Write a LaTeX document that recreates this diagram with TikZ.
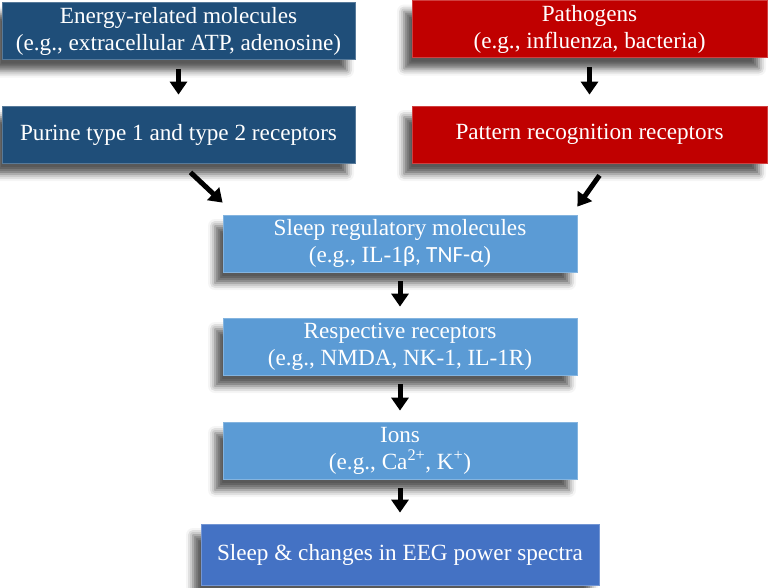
\documentclass[tikz,border=0pt]{standalone}
\usepackage{fontspec}
\setmainfont{Liberation Serif}
\newfontfamily\sansgreek{Carlito}
\usetikzlibrary{arrows.meta,shadows.blur}
\definecolor{energyblue}{RGB}{31,78,121}
\definecolor{pathored}{RGB}{192,0,0}
\definecolor{sleepblue}{RGB}{91,155,213}
\definecolor{eegblue}{RGB}{68,114,196}
\tikzset{
  box/.style={draw=#1!75!white, line width=0.8pt, fill=#1, text=white,
              align=center, minimum height=57pt, inner sep=2pt,
              font=\fontsize{23.2}{27}\selectfont,
              blur shadow={shadow xshift=-8pt, shadow yshift=-11pt,
                           shadow blur radius=7pt, shadow opacity=65}},
  arr/.style={line width=5pt, -{Triangle[width=17pt,length=13pt]},
              shorten <=9pt, shorten >=11pt}
}
\begin{document}
\begin{tikzpicture}[x=1pt,y=-1pt]
\useasboundingbox (0,0) rectangle (769,587);
% left column
\node [box=energyblue, minimum width=353pt] (energy) at (178.5,31)
      {Energy-related molecules\\(e.g., extracellular ATP, adenosine)};
\node [box=energyblue, minimum width=353pt] (purine) at (178.5,134.5)
      {Purine type 1 and type 2 receptors};
% right column
\node [box=pathored, minimum width=355pt] (patho) at (589.5,29)
      {Pathogens\\(e.g., influenza, bacteria)};
\node [box=pathored, minimum width=355pt] (pattern) at (589.5,134.5)
      {Pattern recognition receptors};
% centre column
\node [box=sleepblue, minimum width=354pt] (srm) at (400,243.5)
      {Sleep regulatory molecules\\(e.g., IL-1{\sansgreek β, TNF-α})};
\node [box=sleepblue, minimum width=354pt] (resp) at (400,346.5)
      {Respective receptors\\(e.g., NMDA, NK-1, IL-1R)};
\node [box=sleepblue, minimum width=354pt] (ions) at (400,450.5)
      {Ions\\(e.g., Ca\textsuperscript{2+}, K\textsuperscript{+})};
\node [box=eegblue, minimum width=398pt, minimum height=61pt] (eeg) at (400,554.5)
      {Sleep \& changes in EEG power spectra};
% arrows
\draw [arr] (energy) -- (purine);
\draw [arr] (patho) -- (pattern);
\draw [arr, shorten <=0pt, shorten >=0pt] ([xshift=12pt,yshift=-9pt]purine.south)
      -- ([yshift=12pt]srm.north west);
\draw [arr, shorten <=0pt, shorten >=0pt] ([xshift=10pt,yshift=-12pt]pattern.south)
      -- ([yshift=8pt]srm.north east);
\draw [arr] (srm) -- (resp);
\draw [arr] (resp) -- (ions);
\draw [arr] (ions) -- (eeg);
\end{tikzpicture}
\end{document}
